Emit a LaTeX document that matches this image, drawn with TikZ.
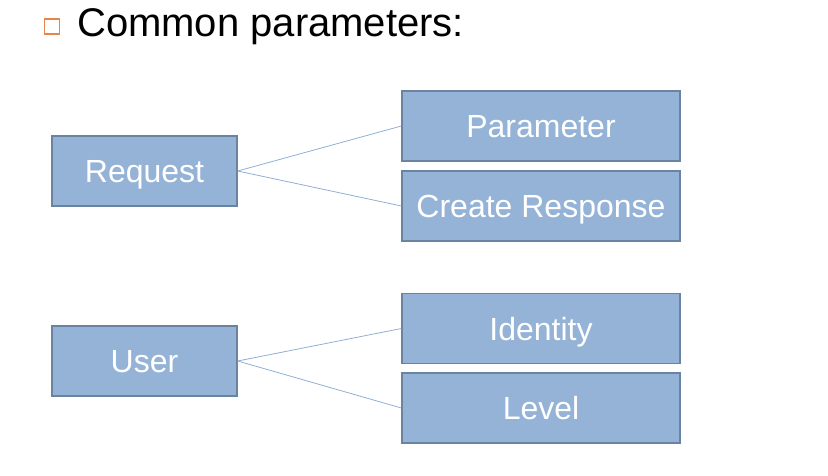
\documentclass[tikz,border=0pt]{standalone}
\usepackage{fontspec}
\setmainfont{Liberation Sans}
\definecolor{boxfill}{HTML}{95B3D7}
\definecolor{boxline}{HTML}{6A83A0}
\definecolor{linkc}{HTML}{8FB0D4}
\definecolor{bulletc}{HTML}{E8864A}
\begin{document}
\begin{tikzpicture}[x=1pt,y=-1pt,
  tbox/.style={draw=boxline, line width=1.3pt, fill=boxfill, minimum height=70pt, inner sep=0pt,
    text=white, font=\fontsize{32}{36}\selectfont, text height=23pt, text depth=0pt},
  lbox/.style={tbox, minimum width=185pt},
  rbox/.style={tbox, minimum width=278pt},
  link/.style={draw=linkc, line width=0.8pt}]
\useasboundingbox (0,0) rectangle (828,475);
\node[draw=bulletc, line width=1.4pt, minimum size=15pt, inner sep=0pt] (bul) at (52,26.5) {};
\node[anchor=base west, inner sep=0pt, font=\fontsize{40}{44}\selectfont] (title) at (77,36) {Common parameters:};
\node[lbox] (req) at (144.5,171) {Request};
\node[rbox] (par) at (541,126) {Parameter};
\node[rbox] (cre) at (541,206) {Create Response};
\node[lbox] (usr) at (144.5,361) {User};
\node[rbox] (idn) at (541,328.5) {Identity};
\node[rbox] (lvl) at (541,408) {Level};
\draw[link] (req.east) -- (par.west);
\draw[link] (req.east) -- (cre.west);
\draw[link] (usr.east) -- (idn.west);
\draw[link] (usr.east) -- (lvl.west);
\end{tikzpicture}
\end{document}
